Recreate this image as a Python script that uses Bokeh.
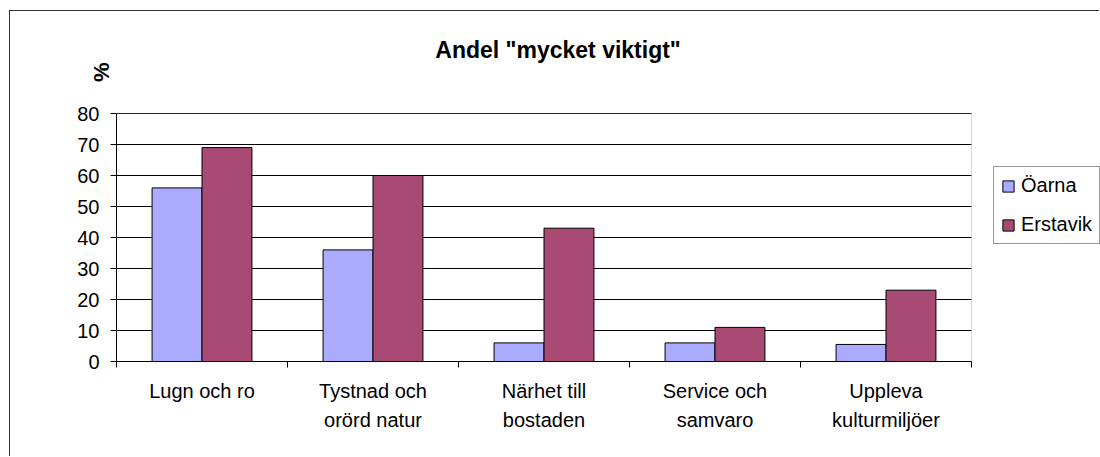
from bokeh.plotting import figure
from bokeh.models import (Range1d, LinearAxis, FixedTicker, Title, Label, BoxAnnotation,
                          Legend, LegendItem, ColumnDataSource, Grid)
from bokeh.transform import dodge
from bokeh.embed import file_html
from bokeh.resources import INLINE

# ---- data ----
categories = ["Lugn och ro", "Tystnad och orörd natur", "Närhet till bostaden",
              "Service och samvaro", "Uppleva kulturmiljöer"]
category_labels = ["Lugn och ro", "Tystnad och\norörd natur", "Närhet till\nbostaden",
                   "Service och\nsamvaro", "Uppleva\nkulturmiljöer"]
oarna = [56, 36, 6, 6, 5.5]
erstavik = [69, 60, 43, 11, 23]
y_ticks = [0, 10, 20, 30, 40, 50, 60, 70, 80]
series_names = ["Öarna", "Erstavik"]
title_text = 'Andel "mycket viktigt"'
unit_text = "%"

FONT = "Liberation Sans"
BLUE = "#AAAAFF"
PURPLE = "#A94A74"

n = len(categories)
y_max = y_ticks[-1]
centers = [i + 0.5 for i in range(n)]      # category slot centres
bounds = [float(i) for i in range(n + 1)]  # category slot boundaries

# layout (pixels): canvas 1090x446; plot area 855x248 px, placed at (106, 102) in the canvas
W, H = 1090, 446
LEFT, BOTTOM = 106, 96
AREA_W, AREA_H = 855, 248
x_end = n * (W - LEFT) / AREA_W
y_end = y_max * (H - BOTTOM) / AREA_H

src = ColumnDataSource(dict(x=centers, cat=categories, oarna=oarna, erstavik=erstavik))

p = figure(x_range=Range1d(0, x_end), y_range=Range1d(0, y_end),
           width=W, height=H, output_backend="svg", toolbar_location=None,
           x_axis_type=None, y_axis_type=None,
           min_border_left=LEFT, min_border_top=0, min_border_right=0, min_border_bottom=BOTTOM)
p.background_fill_color = "white"
p.border_fill_color = "white"
p.outline_line_color = None
p.styles = {"border-left": "1px solid #333333", "border-top": "1px solid #333333",
            "margin-left": "9px", "margin-top": "10px"}

# y axis
yax = LinearAxis(ticker=FixedTicker(ticks=y_ticks), bounds=(0, y_max))
yax.level = "overlay"
yax.major_tick_out = 6
yax.major_tick_in = 0
yax.minor_tick_line_color = None
yax.axis_line_color = "black"
yax.major_tick_line_color = "black"
yax.major_label_text_font = FONT
yax.major_label_text_font_size = "20px"
yax.major_label_text_color = "black"
yax.major_label_standoff = 11
p.add_layout(yax, "left")
p.add_layout(Grid(dimension=1, ticker=yax.ticker, grid_line_color="black", grid_line_width=1))

# unit label ("%") on the left side, near the top
unit = Title(text=unit_text, align="right", offset=51, standoff=-78,
             text_font=FONT, text_font_size="22px", text_font_style="bold", text_color="black")
p.add_layout(unit, "left")

# boundary ticks axis (category separators)
bax = LinearAxis(ticker=FixedTicker(ticks=bounds), bounds=(0, n))
bax.level = "overlay"
bax.major_tick_out = 6
bax.major_tick_in = 0
bax.minor_tick_line_color = None
bax.axis_line_color = "black"
bax.major_tick_line_color = "black"
bax.major_label_overrides = {b: "" for b in bounds}
bax.major_label_text_font_size = "1px"
bax.major_label_standoff = 0
p.add_layout(bax, "below")

# category labels axis
cax = LinearAxis(ticker=FixedTicker(ticks=centers))
cax.axis_line_color = None
cax.major_tick_line_color = None
cax.minor_tick_line_color = None
cax.major_tick_out = 0
cax.major_tick_in = 0
cax.major_label_standoff = 12
cax.major_label_overrides = {c: l for c, l in zip(centers, category_labels)}
cax.major_label_text_font = FONT
cax.major_label_text_font_size = "20px"
cax.major_label_text_color = "black"
cax.major_label_text_line_height = 1.35
p.add_layout(cax, "below")

r1 = p.vbar(x=dodge("x", -0.146), top="oarna", width=0.292, source=src,
            fill_color=BLUE, line_color="black", line_width=1)
r2 = p.vbar(x=dodge("x", 0.146), top="erstavik", width=0.292, source=src,
            fill_color=PURPLE, line_color="black", line_width=1)

# hide grid beyond the plot area, then draw the plot-area border
p.add_layout(BoxAnnotation(left=n, fill_color="white", fill_alpha=1, line_color=None))
p.add_layout(BoxAnnotation(left=0, right=n, bottom=0, top=y_max, fill_alpha=0,
                           line_color="#808080", line_width=1))

# chart title
p.add_layout(Label(x=2.582, y=100.55, text=title_text,
                   text_font=FONT, text_font_size="23px", text_font_style="bold",
                   text_align="center", text_baseline="alphabetic", text_color="black"))

legend = Legend(items=[LegendItem(label=series_names[0], renderers=[r1]),
                       LegendItem(label=series_names[1], renderers=[r2])],
                location=(877, 117))
legend.border_line_color = "#333333"
legend.border_line_width = 1
legend.background_fill_color = "white"
legend.background_fill_alpha = 1
legend.padding = 7
legend.spacing = 16
legend.margin = 0
legend.glyph_width = 14
legend.glyph_height = 14
legend.label_height = 22
legend.label_standoff = 6
legend.label_text_font = FONT
legend.label_text_font_size = "20px"
legend.label_text_color = "black"
p.add_layout(legend)

open("out.html", "w").write(file_html(p, INLINE))
